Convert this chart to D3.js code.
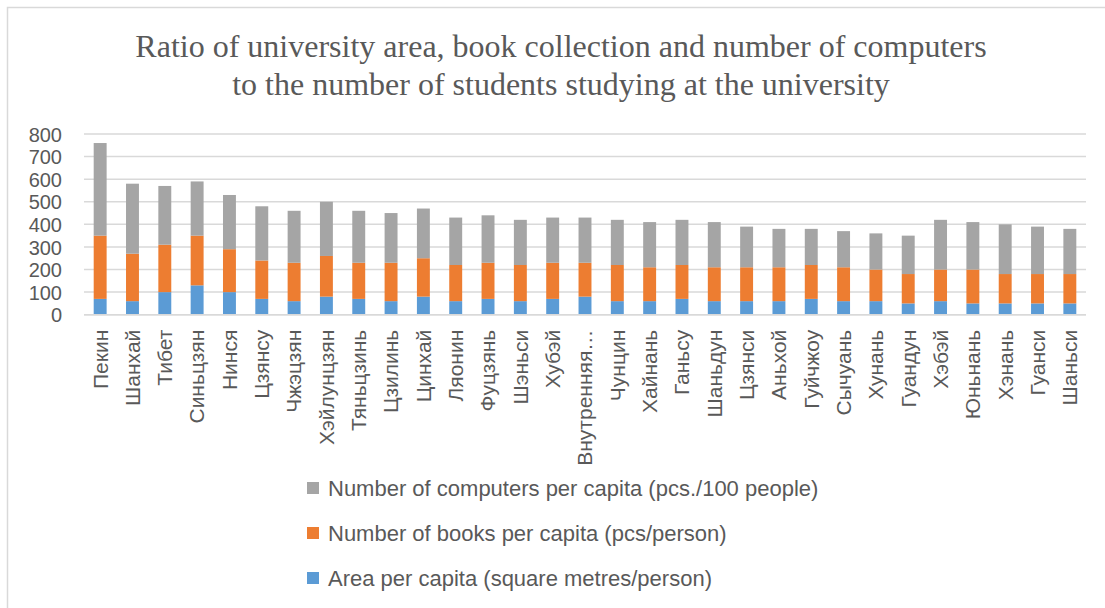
<!DOCTYPE html>
<html>
<head>
<meta charset="utf-8">
<script src="https://cdn.jsdelivr.net/npm/d3@7/dist/d3.min.js"></script>
<style>
  html, body { margin: 0; padding: 0; background: #fff; }
  svg { display: block; }
</style>
</head>
<body>
<svg id="chart" width="1105" height="608"></svg>
<script>
// Regions (provinces) in display order
const regions = ["Пекин","Шанхай","Тибет","Синьцзян","Нинся","Цзянсу","Чжэцзян","Хэйлунцзян","Тяньцзинь","Цзилинь","Цинхай","Ляонин","Фуцзянь","Шэньси","Хубэй","Внутренняя…","Чунцин","Хайнань","Ганьсу","Шаньдун","Цзянси","Аньхой","Гуйчжоу","Сычуань","Хунань","Гуандун","Хэбэй","Юньнань","Хэнань","Гуанси","Шаньси"];

// Area per capita (square metres/person)
const areaPerCapita = [70,60,100,130,100,70,60,80,70,60,80,60,70,60,70,80,60,60,70,60,60,60,70,60,60,50,60,50,50,50,50];
// Number of books per capita (pcs/person)
const booksPerCapita = [280,210,210,220,190,170,170,180,160,170,170,160,160,160,160,150,160,150,150,150,150,150,150,150,140,130,140,150,130,130,130];
// Number of computers per capita (pcs./100 people)
const computersPerCapita = [410,310,260,240,240,240,230,240,230,220,220,210,210,200,200,200,200,200,200,200,180,170,160,160,160,170,220,210,220,210,200];

const yTicks = [0,100,200,300,400,500,600,700,800];

const seriesNames = [
  "Area per capita (square metres/person)",
  "Number of books per capita (pcs/person)",
  "Number of computers per capita (pcs./100 people)"
];
const seriesColors = ["#5b9bd5", "#ed7d31", "#a5a5a5"];

const rows = regions.map((r, i) => ({
  region: r,
  s0: areaPerCapita[i],
  s1: booksPerCapita[i],
  s2: computersPerCapita[i]
}));

const svg = d3.select("#chart");

// chart area border
svg.append("rect")
  .attr("x", 7.5).attr("y", 7.5)
  .attr("width", 1120).attr("height", 640)
  .attr("fill", "#fff")
  .attr("stroke", "#d9d9d9")
  .attr("stroke-width", 1.5);

// title
const title = svg.append("text")
  .attr("text-anchor", "middle")
  .attr("font-family", "'Liberation Serif', 'Times New Roman', serif")
  .attr("font-size", 32)
  .attr("fill", "#595959");
title.append("tspan").attr("x", 561).attr("y", 57)
  .text("Ratio of university area, book collection and number of computers");
title.append("tspan").attr("x", 561).attr("y", 95)
  .text("to the number of students studying at the university");

const plot = { left: 84, right: 1086, top: 134, bottom: 314.7 };

const x = d3.scaleBand()
  .domain(regions)
  .range([plot.left, plot.right])
  .paddingInner(0.6)
  .paddingOuter(0.3);

const y = d3.scaleLinear()
  .domain([0, 800])
  .range([plot.bottom, plot.top]);

const font = "'Liberation Sans', Arial, sans-serif";

// gridlines
svg.append("g")
  .selectAll("line")
  .data(yTicks)
  .join("line")
  .attr("x1", plot.left).attr("x2", plot.right)
  .attr("y1", d => y(d)).attr("y2", d => y(d))
  .attr("stroke", "#d9d9d9")
  .attr("stroke-width", 1.5);

// y axis labels
const yAxis = d3.axisLeft(y).tickValues(yTicks).tickSize(0).tickPadding(0);
const gy = svg.append("g")
  .attr("transform", `translate(62,0)`)
  .call(yAxis);
gy.select(".domain").remove();
gy.selectAll("text")
  .attr("font-family", font)
  .attr("font-size", 20)
  .attr("dy", "0.36em")
  .attr("fill", "#595959");

// stacked bars
const stack = d3.stack().keys(["s0", "s1", "s2"]);
const layers = stack(rows);

svg.append("g")
  .selectAll("g")
  .data(layers)
  .join("g")
  .attr("fill", (d, i) => seriesColors[i])
  .selectAll("rect")
  .data(d => d)
  .join("rect")
  .attr("x", d => x(d.data.region))
  .attr("width", x.bandwidth())
  .attr("y", d => y(d[1]))
  .attr("height", d => y(d[0]) - y(d[1]));

// x axis line
svg.append("line")
  .attr("x1", plot.left).attr("x2", plot.right)
  .attr("y1", plot.bottom).attr("y2", plot.bottom)
  .attr("stroke", "#d9d9d9")
  .attr("stroke-width", 1.5);

// category labels, rotated
const xAxis = d3.axisBottom(x).tickSize(0).tickPadding(0);
const gx = svg.append("g")
  .attr("transform", `translate(0,${plot.bottom})`)
  .call(xAxis);
gx.select(".domain").remove();
gx.selectAll("text")
  .attr("font-family", font)
  .attr("font-size", 21)
  .attr("fill", "#595959")
  .attr("text-anchor", "end")
  .attr("dy", "0.35em")
  .attr("transform", "translate(0,15) rotate(-90)")
  .attr("x", 0).attr("y", 0);

// legend (computers on top)
const legendOrder = [2, 1, 0];
const lg = svg.append("g")
  .selectAll("g")
  .data(legendOrder)
  .join("g")
  .attr("transform", (d, i) => `translate(307,${488 + i * 45})`);
lg.append("rect")
  .attr("x", 0).attr("y", -6)
  .attr("width", 12).attr("height", 12)
  .attr("fill", d => seriesColors[d]);
lg.append("text")
  .attr("x", 21).attr("y", 0)
  .attr("dy", "0.35em")
  .attr("font-family", font)
  .attr("font-size", 22)
  .attr("fill", "#595959")
  .text(d => seriesNames[d]);
</script>
</body>
</html>
